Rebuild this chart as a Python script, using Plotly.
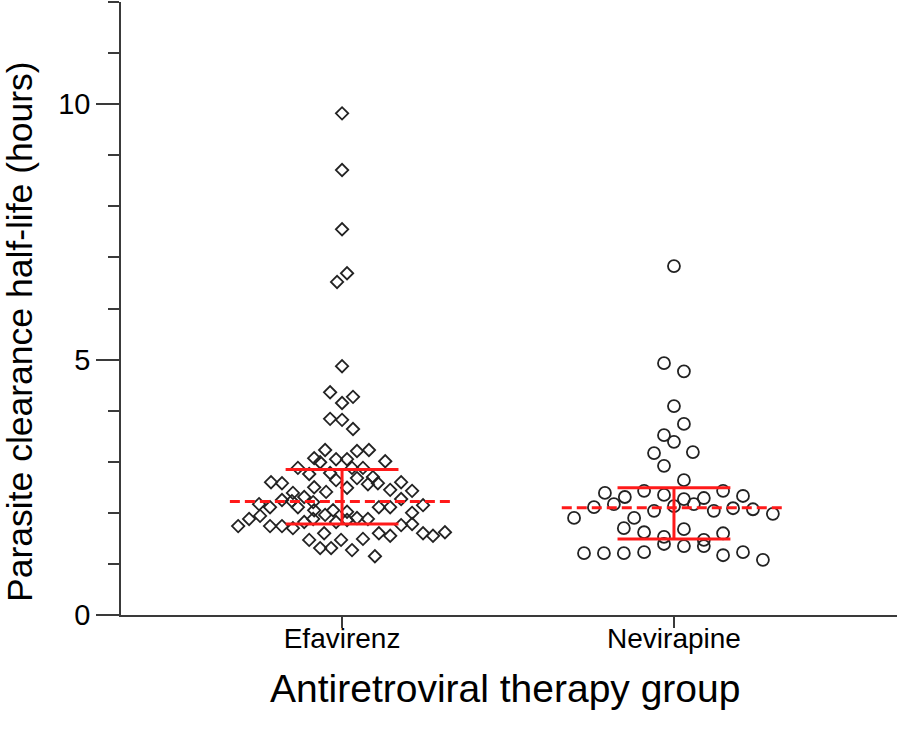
import plotly.graph_objects as go

# ---- data ----
groups = ["Efavirenz", "Nevirapine"]

efv_y = [9.82, 8.71, 7.55, 6.69, 6.52, 4.87, 4.36, 4.27, 4.15, 3.84, 3.82, 3.64,
         3.23, 3.21, 3.23, 3.07, 2.99, 3.05, 3.05, 3.01, 2.88, 2.76, 2.78, 2.88, 2.88,
         2.68, 2.70, 2.58, 2.64, 2.58, 2.60, 2.56, 2.60, 2.50, 2.49, 2.41, 2.45, 2.39,
         2.43, 2.31, 2.25, 2.21, 2.17, 2.27, 2.15, 2.11, 2.11, 2.11, 2.11, 2.02, 2.00,
         1.94, 2.05, 2.05, 1.88, 1.90, 1.88, 1.88, 1.96, 1.82, 1.82, 1.86, 1.74, 1.74,
         1.74, 1.70, 1.76, 1.78, 1.60, 1.60, 1.55, 1.60, 1.55, 1.62, 1.47, 1.47, 1.49,
         1.31, 1.31, 1.27, 1.15, 2.23]
efv_jitter = [0, 0, 0, 0.015, -0.015, 0, -0.036, 0.033, 0, -0.036, 0, 0.033,
              -0.051, 0.045, 0.081, -0.084, -0.066, -0.018, 0.015, 0.130, -0.133, -0.099,
              -0.036, 0.030, 0.063, 0.045, 0.093, 0.108, -0.018, -0.181, -0.214, 0.078,
              0.178, -0.084, 0.015, -0.048, 0.145, -0.148, 0.211, -0.114, -0.181, -0.087,
              -0.250, 0.178, 0.244, -0.217, -0.133, 0.111, 0.145, 0.015, 0.211, -0.247,
              -0.084, -0.027, -0.280, 0.045, 0.078, -0.087, -0.051, -0.114, -0.018, 0.015,
              -0.313, -0.217, -0.181, -0.148, 0.178, 0.211, -0.054, 0.111, 0.145, 0.244,
              0.274, 0.310, -0.099, -0.003, 0.063, -0.066, -0.033, 0.030, 0.099, -0.151]

nvp_y = [6.83, 4.93, 4.77, 4.09, 3.74, 3.52, 3.39, 3.17, 3.19, 2.92, 2.64, 2.39,
         2.43, 2.43, 2.31, 2.35, 2.33, 2.27, 2.29, 2.11, 2.17, 2.13, 2.17, 2.04, 2.04,
         2.09, 2.07, 1.98, 1.90, 1.90, 1.70, 1.62, 1.68, 1.60, 1.53, 1.47, 1.39, 1.35,
         1.35, 1.21, 1.21, 1.21, 1.23, 1.17, 1.23, 1.08]
nvp_jitter = [0, -0.030, 0.030, 0, 0.030, -0.030, 0, -0.060, 0.057, -0.030, 0.030,
              -0.208, -0.090, 0.148, -0.148, -0.030, 0.208, 0.030, 0.090, -0.241, -0.181,
              0, 0.060, -0.060, 0.120, 0.178, 0.238, 0.298, -0.301, -0.120, -0.151, -0.090,
              0.030, 0.148, -0.030, 0.090, -0.030, 0.030, 0.090, -0.271, -0.211, -0.151,
              -0.090, 0.148, 0.208, 0.268]

medians = [2.22, 2.10]
q1s = [1.78, 1.49]
q3s = [2.85, 2.49]

y_ticks = [0, 5, 10]
x_title = "Antiretroviral therapy group"
y_title = "Parasite clearance half-life (hours)"

# ---- styling ----
FONT = "Arial, Liberation Sans, Helvetica, sans-serif"
AXIS_COLOR = "#3a3a3a"
RED = "#ff1a1a"
MED_HALF = 0.338
IQR_HALF = 0.17

fig = go.Figure()

fig.add_trace(go.Scatter(
    x=[0 + j for j in efv_jitter], y=efv_y, mode="markers",
    marker=dict(symbol="diamond-open", size=9.5, color="#222222",
                line=dict(width=1.8, color="#222222")),
    showlegend=False, cliponaxis=False))

fig.add_trace(go.Scatter(
    x=[1 + j for j in nvp_jitter], y=nvp_y, mode="markers",
    marker=dict(symbol="circle-open", size=12, color="#222222",
                line=dict(width=1.8, color="#222222")),
    showlegend=False, cliponaxis=False))

for i in range(len(groups)):
    fig.add_trace(go.Scatter(
        x=[i - MED_HALF, i + MED_HALF], y=[medians[i], medians[i]], mode="lines",
        line=dict(color=RED, width=3, dash="10px,5px"), showlegend=False))
    for v in (q1s[i], q3s[i]):
        fig.add_trace(go.Scatter(
            x=[i - IQR_HALF, i + IQR_HALF], y=[v, v], mode="lines",
            line=dict(color=RED, width=3), showlegend=False))
    fig.add_trace(go.Scatter(
        x=[i, i], y=[q1s[i], q3s[i]], mode="lines",
        line=dict(color=RED, width=3), showlegend=False))

fig.update_layout(
    width=898, height=735,
    margin=dict(l=121, r=1, t=2, b=120),
    paper_bgcolor="white", plot_bgcolor="white",
    font=dict(family=FONT, color="black"),
    xaxis=dict(
        range=[-0.666, 1.672], tickvals=[0, 1], ticktext=groups,
        showgrid=False, zeroline=False, showline=True,
        linecolor=AXIS_COLOR, linewidth=1.5,
        ticks="outside", ticklen=11, tickwidth=1.5, tickcolor=AXIS_COLOR,
        ticklabelstandoff=-13,
        tickfont=dict(size=28, family=FONT, color="black"),
    ),
    yaxis=dict(
        range=[0, 12], tickvals=y_ticks,
        showgrid=False, zeroline=False, showline=True,
        linecolor=AXIS_COLOR, linewidth=1.5,
        ticks="outside", ticklen=23, tickwidth=1.5, tickcolor=AXIS_COLOR,
        tickfont=dict(size=29, family=FONT, color="black"),
        minor=dict(dtick=1, ticks="outside", ticklen=11, tickwidth=1.5,
                   tickcolor=AXIS_COLOR, showgrid=False),
    ),
    annotations=[
        dict(text=x_title, xref="paper", yref="paper", x=0.4948, y=-0.1191,
             xanchor="center", yanchor="middle", showarrow=False,
             font=dict(size=39, family=FONT, color="black")),
        dict(text=y_title, xref="paper", yref="paper", x=-0.1302, y=0.4633,
             xanchor="center", yanchor="middle", showarrow=False, textangle=-90,
             font=dict(size=35.5, family=FONT, color="black")),
    ],
)

fig.write_html("out.html", config={"displayModeBar": False},
               post_script="document.body.style.margin='0px';")
